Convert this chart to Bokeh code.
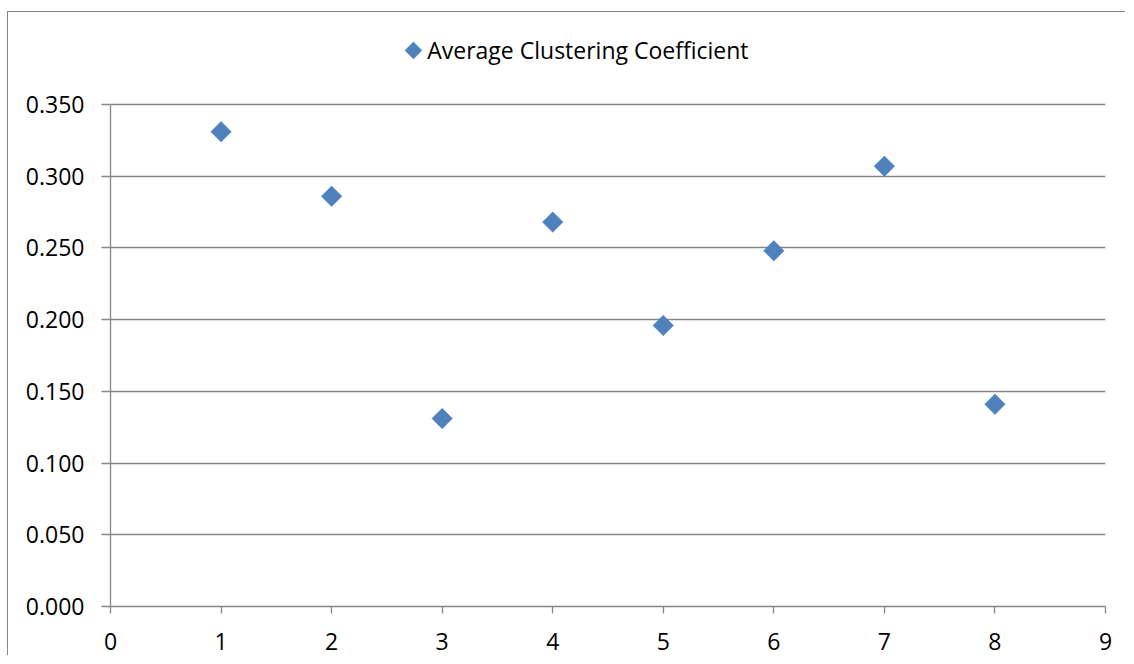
from bokeh.plotting import figure
from bokeh.models import SingleIntervalTicker, FixedTicker, NumeralTickFormatter, Range1d
from bokeh.core.properties import value
from bokeh.embed import file_html
from bokeh.resources import INLINE

# data
x_values = [1, 2, 3, 4, 5, 6, 7, 8]
clustering = [0.331, 0.286, 0.131, 0.268, 0.196, 0.248, 0.307, 0.141]
series_name = "Average Clustering Coefficient"
y_ticks = [0.0, 0.05, 0.1, 0.15, 0.2, 0.25, 0.3, 0.35]
x_ticks = [0, 1, 2, 3, 4, 5, 6, 7, 8, 9]

FONT = "Open Sans"
GRID = "#868686"
BLUE = "#4F81BD"

Y_MAX = 0.35
# frame extends above the value axis to host the legend row (586 px frame, 502 px value axis)
Y_TOP = Y_MAX * 586 / 502

p = figure(width=1118, height=644, output_backend="svg", toolbar_location=None,
           x_range=Range1d(0, 9), y_range=Range1d(0, Y_TOP),
           min_border_left=102, min_border_top=8,
           min_border_right=21, min_border_bottom=50)
p.margin = (11, 0, 0, 7)
p.styles = {"border-left": "1px solid #868686", "border-top": "1px solid #868686"}
p.outline_line_color = None
p.background_fill_color = "white"
p.border_fill_color = "white"

p.scatter(x_values, clustering, marker="square", size=14.5, angle=0.785398,
          fill_color=BLUE, line_color="#4A7EBB", line_width=0.5)

# axes
for ax in (p.xaxis[0], p.yaxis[0]):
    ax.axis_line_color = GRID
    ax.axis_line_width = 1.3
    ax.major_tick_line_color = GRID
    ax.major_tick_line_width = 1.3
    ax.major_tick_in = 0
    ax.minor_tick_line_color = None
    ax.major_label_text_font = FONT
    ax.major_label_text_font_size = "23px"
    ax.major_label_text_color = "black"

p.xaxis[0].ticker = FixedTicker(ticks=x_ticks)
p.xaxis[0].major_tick_out = 7
p.xaxis[0].major_label_standoff = 19

p.yaxis[0].ticker = FixedTicker(ticks=y_ticks)
p.yaxis[0].bounds = (0, Y_MAX)
p.yaxis[0].formatter = NumeralTickFormatter(format="0.000")
p.yaxis[0].major_tick_out = 9
p.yaxis[0].major_label_standoff = 17

p.xgrid.grid_line_color = None
p.ygrid.ticker = FixedTicker(ticks=y_ticks)
p.ygrid.grid_line_color = GRID
p.ygrid.grid_line_width = 1.3

# legend row (top centre), drawn in the frame's upper strip
LEG_X = 2.74
LEG_Y = 0.3877
p.scatter([LEG_X], [LEG_Y], marker="square", size=12, angle=0.785398,
          fill_color=BLUE, line_color="#4A7EBB", line_width=0.5)
p.text([LEG_X + 0.125], [LEG_Y], text=[series_name], text_font=value(FONT),
       text_font_size="23px", text_color="black", text_baseline="middle",
       text_align="left")

open("out.html", "w").write(file_html(p, INLINE))
